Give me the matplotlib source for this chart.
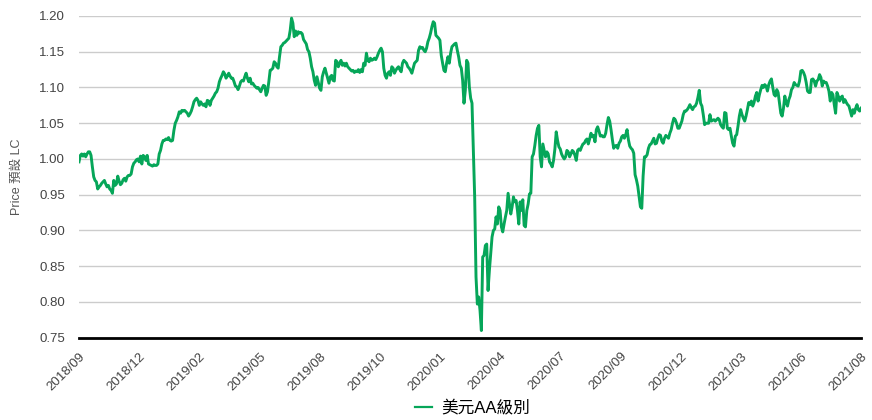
import matplotlib
matplotlib.use("Agg")
import matplotlib.pyplot as plt
from matplotlib.lines import Line2D

# ---- data: fund price series, chronological ----
seg_2018 = [0.996, 1.005, 1.007, 1.004, 1.007, 1.003, 1.007, 1.010, 1.010, 1.005,
            0.989, 0.975, 0.970, 0.968, 0.958, 0.961, 0.963, 0.966, 0.968, 0.970,
            0.965, 0.961, 0.963, 0.958, 0.956, 0.952, 0.970, 0.963, 0.965, 0.976,
            0.969, 0.964, 0.966, 0.971, 0.973, 0.969, 0.975, 0.977, 0.977, 0.979,
            0.989, 0.994, 0.996, 0.999, 1.000, 0.996, 1.004, 0.993, 1.005, 1.003,
            0.998, 1.005, 0.993, 0.992, 0.991, 0.990, 0.992, 0.991, 0.991, 0.993,
            1.007, 1.012, 1.021, 1.026, 1.026, 1.028, 1.027, 1.030, 1.026, 1.025,
            1.026, 1.040, 1.050, 1.054, 1.059, 1.066, 1.064, 1.068, 1.067, 1.068,
            1.066, 1.064, 1.060, 1.063, 1.067, 1.073, 1.080, 1.083, 1.085, 1.082,
            1.075, 1.080, 1.077, 1.075, 1.077, 1.073, 1.082]
seg_2019a = [1.081, 1.075, 1.082, 1.085, 1.088, 1.092, 1.094, 1.099, 1.108, 1.113,
             1.117, 1.122, 1.119, 1.113, 1.116, 1.120, 1.116, 1.113, 1.113, 1.108,
             1.102, 1.101, 1.097, 1.102, 1.108, 1.110, 1.109, 1.115, 1.120, 1.113,
             1.108, 1.113, 1.105, 1.106, 1.103, 1.101, 1.099, 1.100, 1.097, 1.094,
             1.099, 1.103, 1.102, 1.089, 1.094, 1.108, 1.124, 1.125, 1.127, 1.136,
             1.134, 1.129, 1.127, 1.143, 1.157, 1.159, 1.162, 1.163, 1.165, 1.167,
             1.169, 1.180, 1.197, 1.190, 1.171, 1.179, 1.173, 1.178, 1.176, 1.177,
             1.175, 1.167, 1.164, 1.161, 1.153, 1.150, 1.141, 1.129, 1.122, 1.110,
             1.103, 1.115, 1.107, 1.099, 1.096, 1.115, 1.122, 1.127, 1.120, 1.113,
             1.106, 1.115, 1.117, 1.110, 1.109, 1.138, 1.136]
seg_2019b = [1.129, 1.134, 1.138, 1.131, 1.134, 1.130, 1.134, 1.129, 1.127, 1.125,
             1.123, 1.124, 1.121, 1.123, 1.122, 1.125, 1.121, 1.125, 1.122, 1.134,
             1.131, 1.148, 1.138, 1.136, 1.141, 1.138, 1.139, 1.141, 1.139, 1.143,
             1.148, 1.152, 1.155, 1.150, 1.127, 1.117, 1.113, 1.120, 1.122, 1.117,
             1.129, 1.127, 1.120, 1.124, 1.127, 1.129, 1.125, 1.122, 1.134, 1.138,
             1.136, 1.134, 1.129, 1.127, 1.124, 1.120, 1.127, 1.134, 1.136, 1.138,
             1.152, 1.157, 1.155, 1.156, 1.152, 1.150, 1.155, 1.164, 1.169, 1.176,
             1.185, 1.192, 1.190, 1.173, 1.171, 1.169, 1.166, 1.145, 1.134, 1.124,
             1.122, 1.134, 1.143, 1.134, 1.148, 1.157, 1.159, 1.161, 1.162, 1.152,
             1.143, 1.131, 1.127, 1.110, 1.078, 1.096, 1.138]
seg_2020a = [1.134, 1.101, 1.085, 1.078, 1.012, 0.947,
             0.835, 0.797, 0.807, 0.788, 0.760, 0.863,
             0.865, 0.879, 0.881, 0.816, 0.844, 0.867,
             0.891, 0.900, 0.902, 0.919, 0.909, 0.933,
             0.928, 0.905, 0.898, 0.909, 0.919, 0.928,
             0.952, 0.937, 0.923, 0.933, 0.947, 0.940,
             0.942, 0.928, 0.909, 0.940, 0.928, 0.943,
             0.907, 0.905, 0.928, 0.937, 0.951, 0.952,
             1.003, 1.007, 1.019, 1.033, 1.043, 1.047,
             1.003, 0.989, 1.021, 1.012, 1.003, 1.010,
             1.007, 0.996, 0.993, 0.989, 0.998, 1.014,
             1.038, 1.026, 1.017, 1.014, 1.007, 1.003,
             1.000, 1.003, 1.012, 1.010, 1.003, 1.007,
             1.012, 1.010, 1.005, 0.998, 1.012, 1.014,
             1.012, 1.017, 1.021, 1.022, 1.026, 1.028,
             1.021, 1.028, 1.036, 1.031, 1.033, 1.024]
seg_2020b = [1.041, 1.045, 1.039, 1.032, 1.033, 1.031, 1.031, 1.036, 1.048, 1.058,
             1.053, 1.041, 1.027, 1.015, 1.018, 1.019, 1.015, 1.022, 1.025, 1.031,
             1.033, 1.029, 1.034, 1.041, 1.027, 1.018, 1.015, 1.013, 1.008, 0.978,
             0.971, 0.962, 0.948, 0.933, 0.931, 0.976, 1.003, 1.003, 1.006, 1.015,
             1.020, 1.021, 1.025, 1.029, 1.021, 1.022, 1.029, 1.034, 1.033, 1.025,
             1.022, 1.029, 1.033, 1.031, 1.029, 1.036, 1.041, 1.050, 1.057, 1.055,
             1.050, 1.043, 1.043, 1.048, 1.053, 1.062, 1.067, 1.067, 1.069, 1.072,
             1.076, 1.072, 1.069, 1.073, 1.074, 1.078, 1.086, 1.096, 1.078, 1.074,
             1.062, 1.048, 1.050, 1.050, 1.050, 1.062, 1.053, 1.054, 1.055, 1.053,
             1.055, 1.057, 1.055, 1.048, 1.045, 1.043, 1.065]
seg_2021 = [1.064, 1.043, 1.041, 1.043, 1.032, 1.022, 1.018, 1.032, 1.034, 1.046,
            1.060, 1.069, 1.062, 1.057, 1.053, 1.060, 1.069, 1.079, 1.076, 1.081,
            1.074, 1.079, 1.088, 1.093, 1.081, 1.090, 1.097, 1.103, 1.100, 1.104,
            1.102, 1.095, 1.104, 1.109, 1.112, 1.100, 1.090, 1.088, 1.097, 1.093,
            1.079, 1.064, 1.060, 1.071, 1.088, 1.079, 1.074, 1.083, 1.088, 1.097,
            1.100, 1.107, 1.104, 1.103, 1.102, 1.109, 1.123, 1.124, 1.121, 1.116,
            1.107, 1.095, 1.093, 1.093, 1.111, 1.112, 1.109, 1.102, 1.109, 1.111,
            1.118, 1.114, 1.102, 1.109, 1.107, 1.107, 1.102, 1.095, 1.081, 1.093,
            1.090, 1.076, 1.064, 1.093, 1.088, 1.081, 1.086, 1.088, 1.079, 1.083,
            1.079, 1.076, 1.074, 1.067, 1.060, 1.069, 1.064, 1.071, 1.076, 1.069,
            1.067, 1.071]

prices = seg_2018 + seg_2019a + seg_2019b + seg_2020a + seg_2020b + seg_2021

tick_labels = ["2018/09", "2018/12", "2019/02", "2019/05", "2019/08", "2019/10",
               "2020/01", "2020/04", "2020/07", "2020/09", "2020/12", "2021/03",
               "2021/06", "2021/08"]
y_ticks = [0.75, 0.80, 0.85, 0.90, 0.95, 1.00, 1.05, 1.10, 1.15, 1.20]
series_name = "美元AA級別"
y_title = "Price 預設 LC"

GREEN = "#06a659"
FONT = ["Liberation Sans", "Noto Sans CJK TC", "DejaVu Sans"]
plt.rcParams["font.family"] = FONT

fig = plt.figure(figsize=(8.72, 4.20), dpi=100)
ax = fig.add_axes([79 / 872, 1 - 337.7 / 420, (861 - 79) / 872, (337.7 - 16) / 420])

n = len(prices)
x = list(range(n))
ax.plot(x, prices, color=GREEN, lw=2.1, solid_joinstyle="round", zorder=3)

ax.set_xlim(0, n - 1)
ax.set_ylim(0.75, 1.20)
ax.set_yticks(y_ticks)
ax.set_yticklabels([f"{v:.2f}" for v in y_ticks])
step = (n - 1) / (len(tick_labels) - 1)
ax.set_xticks([i * step for i in range(len(tick_labels))])
ax.set_xticklabels(tick_labels, rotation=45, ha="right", rotation_mode="anchor")

ax.grid(axis="y", color="#cccccc", lw=1.0, zorder=0)
for s in ("top", "right", "left"):
    ax.spines[s].set_visible(False)
ax.spines["bottom"].set_color("black")
ax.spines["bottom"].set_linewidth(2.0)
ax.spines["bottom"].set_zorder(4)
ax.tick_params(axis="both", length=0, labelsize=9.5, labelcolor="#444444")
ax.tick_params(axis="y", pad=10)
ax.tick_params(axis="x", pad=9)

ax.set_ylabel(y_title, fontsize=9, color="#555555", labelpad=12)

handle = Line2D([0], [0], color=GREEN, lw=1.6)
fig.legend([handle], [series_name], loc="center", bbox_to_anchor=(0.542, 0.028),
           frameon=False, handlelength=1.0, handletextpad=0.6,
           prop={"family": FONT, "size": 12})

fig.savefig("out.png", dpi=100)
